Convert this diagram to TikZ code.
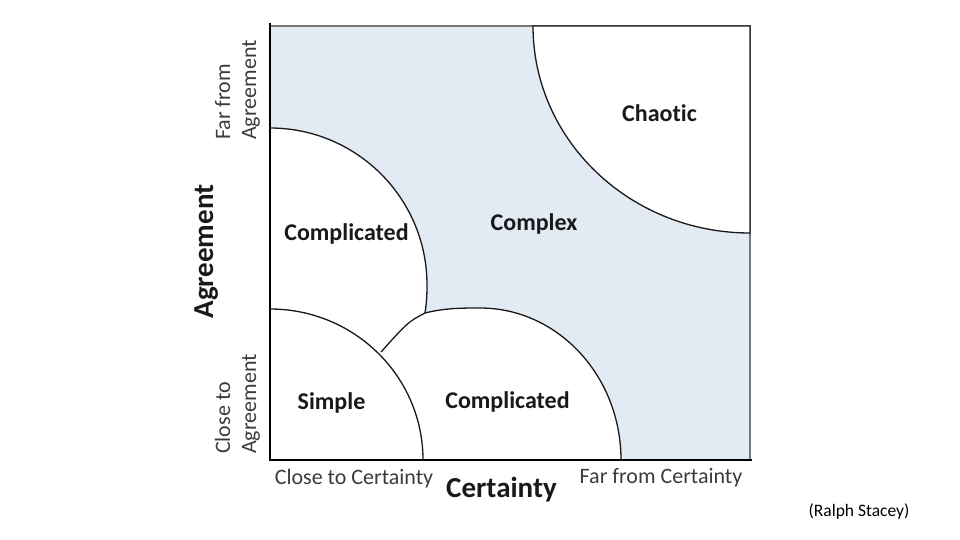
\documentclass[tikz,border=0pt]{standalone}
\usepackage{fontspec}
\setmainfont{Carlito}[Ligatures=NoCommon]
\definecolor{zoneblue}{RGB}{226,234,244}
\definecolor{framegray}{RGB}{120,120,120}
\definecolor{inkc}{RGB}{25,25,25}
\begin{document}
\begin{tikzpicture}[x=1pt,y=-1pt,
  lbl/.style={inner sep=0pt, anchor=base, text=inkc, font=\fontsize{24}{26}\selectfont\bfseries},
  tick/.style={inner sep=0pt, text=inkc!85, font=\fontsize{22}{24}\selectfont},
  border/.style={draw=inkc, line width=1.3pt},
  axis/.style={draw=black, line width=2.8pt}]
\useasboundingbox (0,0) rectangle (960,540);
% background square (Complex zone)
\fill[zoneblue] (270,26) rectangle (750,460);
\draw[framegray, line width=2pt] (270,26) -- (750,26) -- (750,460);
% white union of lower-left zones
\fill[white] (270,128) .. controls (356.7,128) and (427,198.3) .. (427,285)
  .. controls (427,300) and (426,306) .. (425,313)
  .. controls (445,308) and (462,308) .. (480,308)
  .. controls (557.9,308) and (621,376.1) .. (621,460) -- (270,460) -- cycle;
% chaotic zone
\filldraw[fill=white, border] (533,26) .. controls (533,140.3) and (630.2,233) .. (750,233) -- (750,26) -- cycle;
% borders
\coordinate (tl0) at (270,128);
\coordinate (tl1) at (427,285);
\coordinate (jn) at (425,313);
\coordinate (top) at (480,308);
\coordinate (cb) at (621,460);
\coordinate (s0) at (270,309);
\coordinate (s1) at (423,460);
\coordinate (jx) at (381,352);
\draw[border] (tl0) .. controls (356.7,128) and (427,198.3) .. (tl1)
  .. controls (427,300) and (426,306) .. (jn);
\draw[border] (jn) .. controls (445,308) and (462,308) .. (top)
  .. controls (557.9,308) and (621,376.1) .. (cb);
\draw[border] (s0) .. controls (354.5,309) and (423,376.6) .. (s1);
\draw[border] (jn) .. controls (408,322) .. (jx);
% axes
\draw[axis] (270,23) -- (270,460) -- (752,460);
% zone labels
\node[lbl] (chaotic) at (659.5,122) {Chaotic};
\node[lbl] (complex) at (534,230) {Complex};
\node[lbl] (compl1) at (346.5,240.5) {Complicated};
\node[lbl] (simple) at (331.5,409) {Simple};
\node[lbl] (compl2) at (507.5,408) {Complicated};
% axis labels
\node[tick, anchor=base] (cc) at (354,484) {Close to Certainty};
\node[tick, anchor=base] (fc) at (661,483) {Far from Certainty};
\node[lbl, font=\fontsize{29}{31}\selectfont\bfseries] (cert) at (501.5,497) {Certainty};
\node[lbl, font=\fontsize{29}{31}\selectfont\bfseries, rotate=90] (agr) at (213,251.5) {Agreement};
\node[tick, rotate=90, anchor=base west] (ff1) at (230,140) {Far from};
\node[tick, rotate=90, anchor=base west] (ff2) at (256,140) {Agreement};
\node[tick, rotate=90, anchor=base west] (ca1) at (230,454) {Close to};
\node[tick, rotate=90, anchor=base west] (ca2) at (256,454) {Agreement};
\node[inner sep=0pt, anchor=base, text=black, font=\fontsize{17.5}{19}\selectfont] (src) at (859,516) {(Ralph Stacey)};
\end{tikzpicture}
\end{document}
